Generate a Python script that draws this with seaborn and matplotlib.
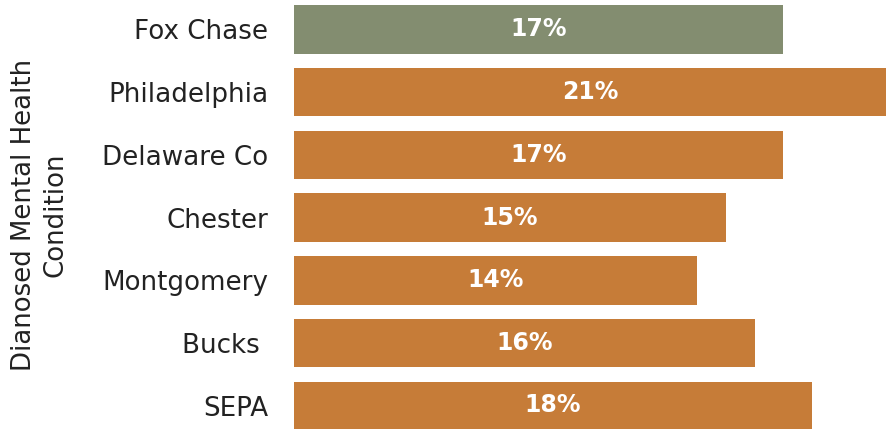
import pandas as pd
import seaborn as sns
from matplotlib import pyplot as plt

regions = ['Fox Chase', 'Philadelphia', 'Delaware Co', 'Chester', 'Montgomery', 'Bucks ', 'SEPA']
pctValues = [17, 21, 17, 15, 14, 16, 18]
barColors = ['#838D70', '#C67C38', '#C67C38', '#C67C38', '#C67C38', '#C67C38', '#C67C38']
yTitle = 'Dianosed Mental Health\nCondition'

dataDF = pd.DataFrame({'Region': regions, 'Pct': pctValues})

sns.set_style('white')
plt.rcParams['font.family'] = ['DejaVu Sans']

fig = plt.figure(figsize=(8.87, 4.29), dpi=100)
ax = fig.add_axes([294 / 887, 0, 1 - 294 / 887, 1])

_ = sns.barplot(
    data=dataDF,
    y='Region',
    x='Pct',
    hue='Region',
    palette=barColors,
    legend=False,
    width=0.77,
    saturation=1,
    linewidth=0,
    ax=ax
)

for container, val in zip(ax.containers, pctValues):
    ax.bar_label(container, labels=[f'{val}%'], label_type='center',
                 color='white', fontsize=17, fontweight='bold')

ax.set_xlim(0, 20.6)
ax.set_ylim(6.37, -0.47)
ax.set_xticks([])
ax.set_xlabel('')
ax.tick_params(axis='y', length=0, pad=18.5, labelsize=18.8, labelcolor='#222222')
ax.set_ylabel(yTitle, fontsize=18.7, color='#222222', linespacing=1.3)
ax.yaxis.set_label_coords(-0.38, 0.5)
sns.despine(ax=ax, left=True, bottom=True)

fig.savefig('out.png', dpi=100)
